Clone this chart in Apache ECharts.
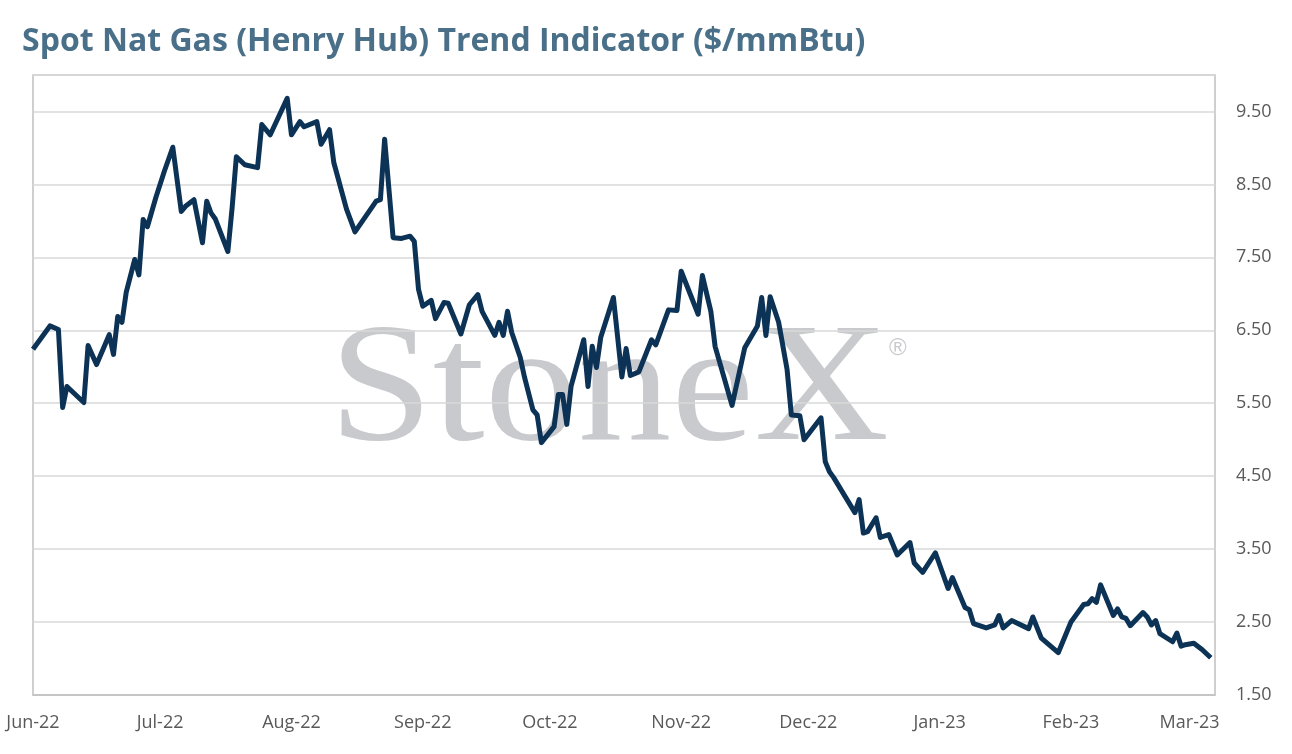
<!DOCTYPE html>
<html>
<head>
<meta charset="utf-8">
<script src="https://cdn.jsdelivr.net/npm/echarts@6/dist/echarts.min.js"></script>
<style>
html,body{margin:0;padding:0;background:#fff;}
#chart{width:1292px;height:754px;}
</style>
</head>
<body>
<div id="chart"></div>
<script>
var titleText = 'Spot Nat Gas (Henry Hub) Trend Indicator ($/mmBtu)';
var axisStart = '2022-06-01';
var axisEnd = '2023-03-07';
var monthNames = ['Jan','Feb','Mar','Apr','May','Jun','Jul','Aug','Sep','Oct','Nov','Dec'];
var yTicks = [1.5, 2.5, 3.5, 4.5, 5.5, 6.5, 7.5, 8.5, 9.5];

var dates = [
'2022-06-01','2022-06-05','2022-06-07','2022-06-08','2022-06-09','2022-06-13','2022-06-14','2022-06-16','2022-06-19','2022-06-20',
'2022-06-21','2022-06-22','2022-06-23','2022-06-25','2022-06-26','2022-06-27','2022-06-28','2022-06-30','2022-07-02','2022-07-04',
'2022-07-06','2022-07-07','2022-07-09','2022-07-11','2022-07-12','2022-07-13','2022-07-14','2022-07-17','2022-07-18','2022-07-19',
'2022-07-21','2022-07-24','2022-07-25','2022-07-27','2022-07-31','2022-08-01','2022-08-03','2022-08-04','2022-08-07','2022-08-08',
'2022-08-10','2022-08-11','2022-08-14','2022-08-16','2022-08-21','2022-08-22','2022-08-23','2022-08-25','2022-08-27','2022-08-29',
'2022-08-30','2022-08-31','2022-09-01','2022-09-03','2022-09-04','2022-09-06','2022-09-07','2022-09-10','2022-09-12','2022-09-14',
'2022-09-15','2022-09-18','2022-09-19','2022-09-20','2022-09-21','2022-09-22','2022-09-24','2022-09-25','2022-09-27','2022-09-28',
'2022-09-29','2022-10-02','2022-10-03','2022-10-04','2022-10-05','2022-10-06','2022-10-09','2022-10-10','2022-10-11','2022-10-12',
'2022-10-13','2022-10-16','2022-10-18','2022-10-19','2022-10-20','2022-10-22','2022-10-25','2022-10-26','2022-10-29','2022-10-31',
'2022-11-01','2022-11-05','2022-11-06','2022-11-08','2022-11-09','2022-11-13','2022-11-16','2022-11-19','2022-11-20','2022-11-21',
'2022-11-22','2022-11-24','2022-11-26','2022-11-27','2022-11-29','2022-11-30','2022-12-04','2022-12-05','2022-12-06','2022-12-07',
'2022-12-12','2022-12-13','2022-12-14','2022-12-15','2022-12-17','2022-12-18','2022-12-20','2022-12-22','2022-12-25','2022-12-26',
'2022-12-28','2022-12-31','2023-01-03','2023-01-04','2023-01-07','2023-01-08','2023-01-09','2023-01-12','2023-01-14','2023-01-15',
'2023-01-16','2023-01-18','2023-01-22','2023-01-23','2023-01-25','2023-01-29','2023-02-01','2023-02-04','2023-02-05','2023-02-06',
'2023-02-07','2023-02-08','2023-02-11','2023-02-12','2023-02-13','2023-02-14','2023-02-15','2023-02-18','2023-02-19','2023-02-20',
'2023-02-21','2023-02-22','2023-02-25','2023-02-26','2023-02-27','2023-02-28','2023-03-02','2023-03-04','2023-03-06'
];

var prices = [
6.24,6.56,6.51,5.44,5.73,5.51,6.29,6.03,6.44,6.17,
6.69,6.61,7.02,7.47,7.26,8.02,7.92,8.32,8.68,9.01,
8.13,8.20,8.29,7.70,8.27,8.11,8.03,7.58,8.18,8.88,
8.77,8.73,9.32,9.18,9.68,9.18,9.36,9.29,9.36,9.05,
9.25,8.80,8.16,7.85,8.27,8.29,9.12,7.77,7.76,7.79,
7.72,7.06,6.83,6.91,6.66,6.88,6.87,6.45,6.85,6.99,
6.76,6.43,6.61,6.43,6.76,6.47,6.13,5.86,5.41,5.34,
4.96,5.18,5.62,5.62,5.21,5.73,6.37,5.73,6.28,5.99,
6.40,6.95,5.86,6.25,5.88,5.93,6.37,6.30,6.78,6.77,
7.31,6.72,7.25,6.76,6.28,5.47,6.26,6.56,6.95,6.43,
6.96,6.61,5.96,5.34,5.33,5.00,5.30,4.70,4.56,4.48,
4.00,4.18,3.72,3.74,3.93,3.66,3.70,3.42,3.59,3.31,
3.18,3.45,2.96,3.11,2.70,2.67,2.48,2.42,2.46,2.59,
2.42,2.52,2.41,2.57,2.28,2.08,2.50,2.74,2.75,2.82,
2.77,3.01,2.59,2.68,2.57,2.55,2.45,2.63,2.57,2.46,
2.52,2.34,2.23,2.35,2.17,2.19,2.21,2.12,2.01
];

// calendar-day categories for the x axis
var categories = [];
(function () {
  var s = Date.parse(axisStart + 'T00:00:00Z');
  var e = Date.parse(axisEnd + 'T00:00:00Z');
  for (var t = s; t <= e; t += 86400000) {
    categories.push(new Date(t).toISOString().slice(0, 10));
  }
})();
var lookup = {};
dates.forEach(function (d, i) { lookup[d] = prices[i]; });
var seriesData = categories.map(function (d) {
  return lookup.hasOwnProperty(d) ? lookup[d] : null;
});

var labelFont = '"Open Sans", "Noto Sans", sans-serif';

var chart = echarts.init(document.getElementById('chart'), null, {renderer: 'canvas'});
chart.setOption({
  animation: false,
  backgroundColor: '#ffffff',
  title: {
    text: titleText,
    left: 17,
    top: 21,
    textStyle: {
      fontFamily: labelFont,
      fontWeight: 'bold',
      fontSize: 32,
      color: '#4a7089'
    }
  },
  graphic: [
    {
      type: 'text',
      x: 329,
      y: 309,
      scaleX: 1.098,
      z: -10,
      silent: true,
      style: {
        text: 'StoneX',
        font: '170px "Liberation Serif", "DejaVu Serif", serif',
        fill: '#c9cacd',
        align: 'left',
        verticalAlign: 'top'
      }
    },
    {
      type: 'text',
      x: 889,
      y: 336,
      z: -10,
      silent: true,
      style: {
        text: '\u00AE',
        font: '24px "Liberation Sans", sans-serif',
        fill: '#c9cacd',
        align: 'left',
        verticalAlign: 'top'
      }
    }
  ],
  grid: {
    left: 33,
    right: 77,
    top: 75,
    bottom: 59,
    show: true,
    borderColor: '#c0c0c0',
    borderWidth: 1.5,
    containLabel: false
  },
  xAxis: {
    type: 'category',
    data: categories,
    boundaryGap: false,
    axisLine: {show: true, lineStyle: {color: '#c0c0c0', width: 1.5}},
    axisTick: {show: false},
    splitLine: {show: false},
    axisLabel: {
      interval: function (idx, val) { return val.slice(8) === '01'; },
      formatter: function (val) {
        var m = parseInt(val.slice(5, 7), 10) - 1;
        return monthNames[m] + '-' + val.slice(2, 4);
      },
      margin: 19,
      fontFamily: labelFont,
      fontSize: 18,
      color: '#595959',
      showMinLabel: true,
      showMaxLabel: true,
      hideOverlap: false
    }
  },
  yAxis: {
    type: 'value',
    position: 'right',
    min: 1.5,
    max: 10,
    interval: 1,
    axisLine: {show: false},
    axisTick: {show: false},
    splitLine: {show: true, lineStyle: {color: '#d9d9d9', width: 1.5}},
    axisLabel: {
      margin: 21,
      fontFamily: labelFont,
      fontSize: 18,
      color: '#595959',
      padding: [4, 0, 0, 0],
      formatter: function (v) {
        return yTicks.indexOf(Math.round(v * 100) / 100) >= 0 ? v.toFixed(2) : '';
      }
    }
  },
  series: [
    {
      type: 'line',
      data: seriesData,
      connectNulls: true,
      showSymbol: false,
      symbol: 'none',
      lineStyle: {color: '#0c3356', width: 5, join: 'round'},
      z: 5
    }
  ]
});
</script>
</body>
</html>
